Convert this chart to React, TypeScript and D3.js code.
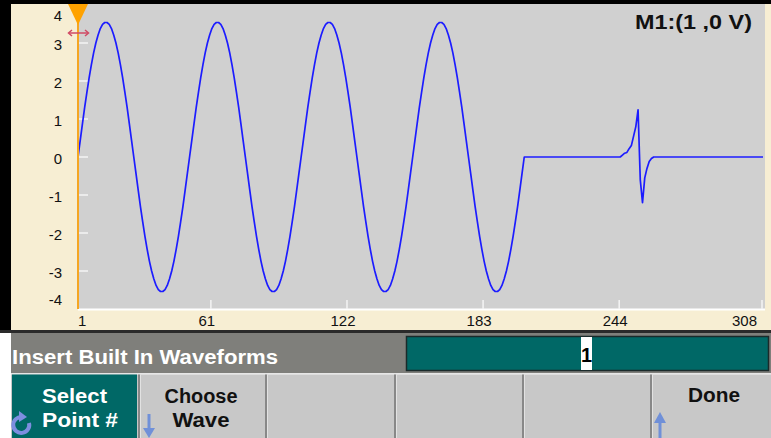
import * as d3 from 'd3';

// sampled arbitrary waveform: one sine cycle (50 points), repeated 4x, then a flat tail with a small pulse
const sineCycle = [
  0, 0.44, 0.88, 1.31, 1.71, 2.09, 2.43, 2.74, 3.0, 3.21, 3.38, 3.49, 3.54,
  3.54, 3.49, 3.38, 3.21, 3.0, 2.74, 2.43, 2.09, 1.71, 1.31, 0.88, 0.44,
  0, -0.44, -0.88, -1.31, -1.71, -2.09, -2.43, -2.74, -3.0, -3.21, -3.38, -3.49, -3.54,
  -3.54, -3.49, -3.38, -3.21, -3.0, -2.74, -2.43, -2.09, -1.71, -1.31, -0.88, -0.44,
];
const tailValues = [
  0, 0, 0, 0, 0, 0, 0, 0, 0, 0, 0, 0, 0, 0, 0, 0, 0, 0, 0, 0, 0, 0,
  0, 0, 0, 0, 0, 0, 0, 0, 0, 0, 0, 0, 0, 0, 0, 0, 0, 0, 0, 0, 0, 0,
  0.05, 0.1, 0.12, 0.22, 0.3, 0.55, 0.8, 1.24, -0.6, -1.2, -0.55, -0.3, -0.12, -0.04,
  0, 0, 0, 0, 0, 0, 0, 0, 0, 0, 0, 0, 0, 0, 0, 0, 0, 0, 0, 0, 0, 0, 0, 0, 0,
  0, 0, 0, 0, 0, 0, 0, 0, 0, 0, 0, 0, 0, 0, 0, 0, 0, 0, 0, 0, 0, 0, 0, 0, 0,
];
const waveValues = [...sineCycle, ...sineCycle, ...sineCycle, ...sineCycle, ...tailValues];

const xTicks = [1, 61, 122, 183, 244, 308];
const yTicks = [4, 3, 2, 1, 0, -1, -2, -3, -4];
const markerLabel = 'M1:(1 ,0 V)';
const menuTitle = 'Insert Built In Waveforms';
const pointValue = '1';

const W = 771;
const H = 438;
const plot = { left: 78, right: 765, top: 4, bottom: 309 };

const CREAM = '#f7eed3';
const PLOT_BG = '#d0d0d0';
const TEAL = '#006866';
const KEY_BG = '#c8c8c8';
const ORANGE = '#f5a623';
const BLUE_ICON = '#7090d8';

export default function App() {
  const x = d3.scaleLinear().domain([1, 308]).range([plot.left, 763]);
  const y = d3.scaleLinear().domain([-4, 4]).range([plot.bottom, 5]);

  const pts = waveValues.map((v, i) => ({ n: i + 1, v }));
  const line = d3
    .line<{ n: number; v: number }>()
    .x((d) => x(d.n))
    .y((d) => y(d.v));

  const font = "'Liberation Sans', Arial, sans-serif";

  // x label placement: first starts at tick, last ends before edge, rest sit a bit left
  const xLabel = (t: number, i: number) => {
    if (i === 0) return { x: x(t), anchor: 'start' };
    if (i === xTicks.length - 1) return { x: 757, anchor: 'end' };
    return { x: x(t) - 5, anchor: 'middle' };
  };
  const yLabelY = (t: number) => {
    if (t === 4) return y(t) + 16;
    if (t === -4) return y(t) - 4;
    return y(t) + 7;
  };

  const dividers = [138, 265, 394, 522, 650];

  return (
    <svg
      width={W}
      height={H}
      style={{ position: 'absolute', left: 0, top: 0, background: '#fff' }}
      fontFamily={font}
    >
      {/* frame */}
      <rect x={0} y={0} width={W} height={332} fill="#000" />
      <rect x={11} y={4} width={W - 11} height={328} fill={CREAM} />
      <rect x={plot.left} y={plot.top} width={plot.right - plot.left} height={plot.bottom - plot.top} fill={PLOT_BG} />

      {/* white axis line + ticks */}
      <line x1={plot.left} x2={plot.right} y1={plot.bottom + 0.5} y2={plot.bottom + 0.5} stroke="#fff" strokeWidth={2} />
      {yTicks.filter((t) => t !== 4 && t !== -4).map((t) => (
        <line key={'yt' + t} x1={plot.left} x2={88} y1={y(t)} y2={y(t)} stroke="#f4f4f4" strokeWidth={1.5} />
      ))}
      {xTicks.slice(1).map((t) => (
        <line key={'xt' + t} x1={x(t) - 1} x2={x(t) - 1} y1={plot.bottom} y2={plot.bottom - 9} stroke="#f4f4f4" strokeWidth={1.5} />
      ))}

      {/* y labels */}
      {yTicks.map((t) => (
        <text key={'yl' + t} x={62} y={yLabelY(t)} textAnchor="end" fontSize={15} fill="#111">
          {t}
        </text>
      ))}
      {/* x labels */}
      {xTicks.map((t, i) => {
        const p = xLabel(t, i);
        return (
          <text key={'xl' + t} x={p.x} y={326} textAnchor={p.anchor} fontSize={15} fill="#111">
            {t}
          </text>
        );
      })}

      {/* waveform */}
      <path d={line(pts) || ''} fill="none" stroke="#1c1cff" strokeWidth={1.7} strokeLinejoin="round" />

      {/* marker */}
      <line x1={plot.left} x2={plot.left} y1={plot.top} y2={plot.bottom} stroke={ORANGE} strokeWidth={2} />
      <path d={`M${plot.left - 10},${plot.top} L${plot.left + 10},${plot.top} L${plot.left},25 Z`} fill="#ffa200" />
      <g stroke="#d04a64" strokeWidth={1.5} fill="none">
        <line x1={69} x2={88} y1={33} y2={33} />
        <path d="M72,30 L68.5,33 L72,36" />
        <path d="M85,30 L88.5,33 L85,36" />
      </g>
      <text x={752} y={29} textAnchor="end" fontSize={20} fontWeight="bold" fill="#111" textLength={117} lengthAdjust="spacingAndGlyphs">
        {markerLabel}
      </text>

      {/* title band */}
      <rect x={0} y={330} width={W} height={3} fill="#2a2a2a" />
      <rect x={11} y={333} width={W - 11} height={40} fill="#7f7f7b" />
      <text x={12} y={364} fontSize={20} fontWeight="bold" fill="#fff" textLength={266} lengthAdjust="spacingAndGlyphs">
        {menuTitle}
      </text>
      <rect x={406.5} y={336.5} width={362} height={34} fill={TEAL} stroke="#1a2a2a" strokeWidth={1.5} />
      <rect x={581} y={337} width={11} height={33} fill="#fff" />
      <text x={586.5} y={362} textAnchor="middle" fontSize={20} fontWeight="bold" fill="#000">
        {pointValue}
      </text>

      {/* softkeys */}
      <rect x={11} y={373} width={W - 11} height={1.5} fill="#e6e6e6" />
      <rect x={11} y={374.5} width={W - 11} height={H - 374.5} fill={KEY_BG} />
      <rect x={12} y={374.5} width={125} height={H - 374.5} fill={TEAL} />
      {dividers.map((dx) => (
        <g key={'dv' + dx}>
          <rect x={dx} y={374.5} width={2} height={H - 374.5} fill="#888" />
          <rect x={dx + 2} y={374.5} width={1} height={H - 374.5} fill="#e2e2e2" />
        </g>
      ))}
      <text x={42} y={403} fontSize={20} fontWeight="bold" fill="#fff" textLength={65} lengthAdjust="spacingAndGlyphs">Select</text>
      <text x={42} y={427} fontSize={20} fontWeight="bold" fill="#fff" textLength={76} lengthAdjust="spacingAndGlyphs">Point #</text>
      <text x={201} y={403} textAnchor="middle" fontSize={20} fontWeight="bold" fill="#111" textLength={73} lengthAdjust="spacingAndGlyphs">Choose</text>
      <text x={201} y={427} textAnchor="middle" fontSize={20} fontWeight="bold" fill="#111" textLength={57} lengthAdjust="spacingAndGlyphs">Wave</text>
      <text x={714} y={402} textAnchor="middle" fontSize={20} fontWeight="bold" fill="#111" textLength={52} lengthAdjust="spacingAndGlyphs">Done</text>

      {/* knob icon */}
      <g fill="none" stroke="#7d8ee0" strokeWidth={4}>
        <path d="M29,423 A8,8 0 1 1 22,417" />
      </g>
      <path d="M19,411 L27,417 L19,422 Z" fill="#7d8ee0" />
      {/* arrows */}
      <g fill={BLUE_ICON}>
        <rect x={147.5} y={414} width={3} height={18} />
        <path d="M143,428 L155,428 L149,438 Z" />
        <rect x={658.5} y={420} width={3} height={18} />
        <path d="M654,423 L666,423 L660,412 Z" />
      </g>
    </svg>
  );
}
